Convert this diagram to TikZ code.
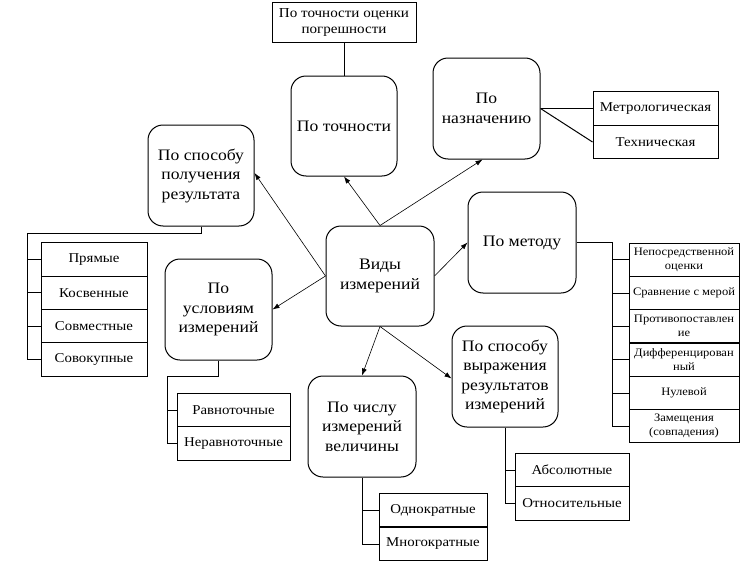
\documentclass[tikz,border=0pt]{standalone}
\usepackage{fontspec}
\setmainfont[FakeStretch=1.1]{Liberation Serif}
\usetikzlibrary{arrows.meta}
\begin{document}
\begin{tikzpicture}[x=1pt,y=-1pt,
  big/.style={draw, line width=1pt, rounded corners=15pt, align=center, inner sep=0pt,
    font=\fontsize{16}{19.5}\selectfont},
  item/.style={draw, line width=1pt, align=center, inner sep=0pt, minimum height=33.4pt,
    font=\fontsize{13.5}{16}\selectfont},
  mitem/.style={draw, line width=1pt, align=center, inner sep=0pt, minimum width=110pt, minimum height=33.3pt,
    font=\fontsize{11.4}{14}\selectfont},
  lnk/.style={line width=1pt},
  arr/.style={line width=0.6pt, -{Latex[length=7pt,width=5pt]}}]
\useasboundingbox (0,0) rectangle (745,562);
% main boxes
\node[big, minimum width=108pt, minimum height=100pt] (vid) at (380,276) {Виды\\измерений};
\node[draw, line width=1pt, align=center, inner sep=0pt, minimum width=144pt, minimum height=40pt,
  font=\fontsize{13.7}{16}\selectfont] (top) at (344,22) {По точности оценки\\погрешности};
\node[big, minimum width=106pt, minimum height=100pt] (tochn) at (344,126) {По точности};
\node[big, minimum width=107pt, minimum height=101pt] (nazn) at (486.5,108.5) {По\\назначению};
\node[big, minimum width=108pt, minimum height=101pt] (metod) at (522,242.5) {По методу};
\node[big, minimum width=106pt, minimum height=101pt] (spos) at (201,175.5) {По способу\\получения\\результата};
\node[big, minimum width=107pt, minimum height=101pt] (uslov) at (218.5,309.5) {По\\условиям\\измерений};
\node[big, minimum width=108pt, minimum height=101pt] (chislo) at (362,426.5) {По числу\\измерений\\величины};
\node[big, minimum width=106pt, minimum height=101pt] (vyraz) at (505,376.5) {По способу\\выражения\\результатов\\измерений};
% items
\node[item, minimum width=125pt] (metr) at (655.5,108.5) {Метрологическая};
\node[item, minimum width=125pt] (tech) at (655.5,142) {Техническая};
\node[item, minimum width=106pt] (p1) at (94,259.5) {Прямые};
\node[item, minimum width=106pt] (p2) at (94,292.8) {Косвенные};
\node[item, minimum width=106pt] (p3) at (94,326.2) {Совместные};
\node[item, minimum width=106pt] (p4) at (94,359.5) {Совокупные};
\node[item, minimum width=113pt] (r1) at (233.5,410) {Равноточные};
\node[item, minimum width=113pt] (r2) at (233.5,443.5) {Неравноточные};
\node[item, minimum width=108pt] (o1) at (433,510) {Однократные};
\node[item, minimum width=108pt] (o2) at (433,544) {Многократные};
\node[item, minimum width=114pt] (a1) at (572,470) {Абсолютные};
\node[item, minimum width=114pt] (a2) at (572,503.5) {Относительные};
\node[mitem] (m1) at (684,259.7) {Непосредственной\\оценки};
\node[mitem] (m2) at (684,293) {Сравнение с мерой};
\node[mitem] (m3) at (684,326.3) {Противопоставлен\\ие};
\node[mitem] (m4) at (684,359.7) {Дифференцирован\\ный};
\node[mitem] (m5) at (684,393) {Нулевой};
\node[mitem] (m6) at (684,426.3) {Замещения\\(совпадения)};
% tree connectors
\draw[lnk] (tochn.north) -- (top.south);
\draw[lnk] (nazn.east) -- (metr.west);
\draw[lnk] (nazn.east) -- (tech.west);
\coordinate (kL) at (27,233);
\draw[lnk] (spos.south) |- (kL) |- (p4.west);
\foreach \n in {p1,p2,p3} \draw[lnk] (kL |- \n.west) -- (\n.west);
\coordinate (kU) at (167,376);
\draw[lnk] (uslov.south) |- (kU) |- (r2.west);
\draw[lnk] (kU |- r1.west) -- (r1.west);
\draw[lnk] (chislo.south) |- (o2.west);
\draw[lnk] (chislo.south |- o1.west) -- (o1.west);
\draw[lnk] (vyraz.south) |- (a2.west);
\draw[lnk] (vyraz.south |- a1.west) -- (a1.west);
\coordinate (kM) at (612,242.5);
\draw[lnk] (metod.east) -- (kM) |- (m6.west);
\foreach \n in {m1,m2,m3,m4,m5} \draw[lnk] (kM |- \n.west) -- (\n.west);
% arrows
\draw[arr] (vid.north) -- (tochn.south);
\draw[arr] (vid.north) -- ([xshift=-4pt]nazn.south);
\draw[arr] (vid.east) -- (metod.west);
\draw[arr] (vid.west) -- ([yshift=2.5pt]spos.east);
\draw[arr] (vid.west) -- (uslov.east);
\draw[arr] (vid.south) -- (chislo.north);
\draw[arr] (vid.south) -- ([yshift=-2pt]vyraz.west);
\end{tikzpicture}
\end{document}
